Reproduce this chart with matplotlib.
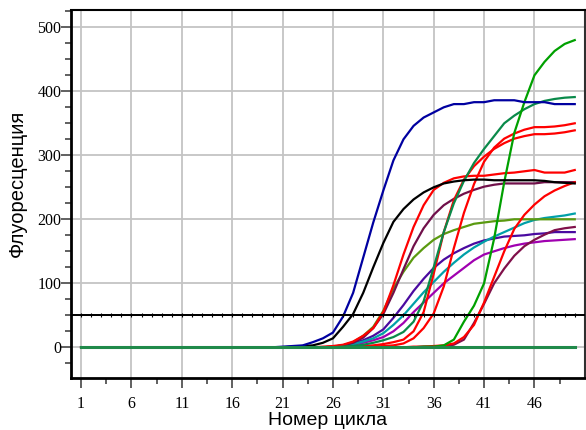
import matplotlib
matplotlib.use('Agg')
import matplotlib.pyplot as plt
from matplotlib.ticker import MultipleLocator, FixedLocator
import numpy as np

# Cycle numbers and fluorescence per sample
cycles = np.arange(1, 51)
threshold = 50

blue = [0, 0, 0, 0, 0, 0, 0, 0, 0, 0,
        0, 0, 0, 0, 0, 0, 0, 0, 0, 0,
        1, 2, 3, 8, 14, 23, 48, 85, 140, 195,
        245, 292, 325, 346, 359, 367, 375, 380, 380, 383,
        383, 386, 386, 386, 383, 383, 383, 380, 380, 380]
black = [0, 0, 0, 0, 0, 0, 0, 0, 0, 0,
         0, 0, 0, 0, 0, 0, 0, 0, 0, 0,
         0, 1, 2, 3, 7, 14, 32, 52, 85, 125,
         163, 196, 216, 231, 242, 250, 256, 259, 261, 262,
         262, 261, 261, 261, 261, 261, 260, 258, 257, 256]
red_a = [0, 0, 0, 0, 0, 0, 0, 0, 0, 0,
         0, 0, 0, 0, 0, 0, 0, 0, 0, 0,
         0, 0, 0, 0, 1, 2, 4, 9, 18, 30,
         55, 97, 145, 188, 222, 246, 257, 264, 267, 268,
         268, 270, 272, 273, 275, 277, 273, 273, 273, 277]
maroon_a = [0, 0, 0, 0, 0, 0, 0, 0, 0, 0,
            0, 0, 0, 0, 0, 0, 0, 0, 0, 0,
            0, 0, 0, 0, 0, 1, 3, 7, 15, 30,
            52, 85, 122, 158, 186, 207, 222, 232, 240, 246,
            251, 254, 256, 256, 256, 256, 258, 258, 258, 258]
olive = [0, 0, 0, 0, 0, 0, 0, 0, 0, 0,
         0, 0, 0, 0, 0, 0, 0, 0, 0, 0,
         0, 0, 0, 0, 0, 1, 3, 8, 18, 32,
         57, 92, 118, 140, 155, 168, 177, 183, 188, 193,
         195, 197, 198, 200, 200, 200, 200, 200, 200, 200]
indigo = [0, 0, 0, 0, 0, 0, 0, 0, 0, 0,
          0, 0, 0, 0, 0, 0, 0, 0, 0, 0,
          0, 0, 0, 0, 0, 1, 3, 6, 11, 18,
          28, 46, 66, 88, 107, 124, 137, 147, 155, 162,
          167, 170, 173, 174, 175, 177, 178, 180, 180, 180]
teal = [0, 0, 0, 0, 0, 0, 0, 0, 0, 0,
        0, 0, 0, 0, 0, 0, 0, 0, 0, 0,
        0, 0, 0, 0, 0, 1, 2, 5, 9, 14,
        22, 35, 50, 68, 86, 102, 118, 132, 145, 156,
        165, 173, 180, 187, 194, 199, 202, 204, 206, 209]
magenta = [0, 0, 0, 0, 0, 0, 0, 0, 0, 0,
           0, 0, 0, 0, 0, 0, 0, 0, 0, 0,
           0, 0, 0, 0, 0, 0, 2, 4, 7, 11,
           16, 25, 38, 55, 70, 85, 100, 112, 124, 136,
           145, 150, 155, 159, 162, 164, 166, 167, 168, 169]
seagreen = [0, 0, 0, 0, 0, 0, 0, 0, 0, 0,
            0, 0, 0, 0, 0, 0, 0, 0, 0, 0,
            0, 0, 0, 0, 0, 0, 1, 2, 4, 7,
            11, 16, 24, 40, 72, 125, 180, 225, 260, 288,
            310, 330, 350, 362, 372, 380, 385, 388, 390, 391]
red_c = [0, 0, 0, 0, 0, 0, 0, 0, 0, 0,
         0, 0, 0, 0, 0, 0, 0, 0, 0, 0,
         0, 0, 0, 0, 0, 0, 0, 1, 2, 3,
         5, 8, 12, 25, 55, 115, 180, 230, 262, 283,
         298, 310, 319, 326, 330, 333, 333, 334, 336, 339]
red_b = [0, 0, 0, 0, 0, 0, 0, 0, 0, 0,
         0, 0, 0, 0, 0, 0, 0, 0, 0, 0,
         0, 0, 0, 0, 0, 0, 0, 0, 0, 1,
         2, 3, 6, 14, 30, 53, 95, 155, 210, 255,
         290, 312, 326, 334, 340, 344, 344, 345, 347, 350]
green = [0, 0, 0, 0, 0, 0, 0, 0, 0, 0,
         0, 0, 0, 0, 0, 0, 0, 0, 0, 0,
         0, 0, 0, 0, 0, 0, 0, 0, 0, 0,
         0, 0, 0, 0, 1, 1, 3, 12, 40, 65,
         100, 170, 258, 335, 383, 425, 446, 463, 474, 480]
red_d = [0, 0, 0, 0, 0, 0, 0, 0, 0, 0,
         0, 0, 0, 0, 0, 0, 0, 0, 0, 0,
         0, 0, 0, 0, 0, 0, 0, 0, 0, 0,
         0, 0, 0, 1, 1, 2, 3, 6, 16, 35,
         70, 110, 150, 185, 207, 223, 236, 245, 252, 258]
maroon_b = [0, 0, 0, 0, 0, 0, 0, 0, 0, 0,
            0, 0, 0, 0, 0, 0, 0, 0, 0, 0,
            0, 0, 0, 0, 0, 0, 0, 0, 0, 0,
            0, 0, 0, 0, 1, 1, 2, 4, 12, 38,
            68, 100, 123, 143, 158, 168, 176, 183, 186, 188]
negative = [0, 0, 0, 0, 0, 0, 0, 0, 0, 0,
            0, 0, 0, 0, 0, 0, 0, 0, 0, 0,
            0, 0, 0, 0, 0, 0, 0, 0, 0, 0,
            0, 0, 0, 0, 0, 0, 0, 0, 0, 0,
            0, 0, 0, 0, 0, 0, 0, 0, 0, 0]

series = [
    (magenta, '#a000b0'),
    (indigo, '#4a0aa0'),
    (teal, '#00a0a8'),
    (olive, '#5a9a10'),
    (maroon_b, '#80104a'),
    (maroon_a, '#70104a'),
    (red_d, '#ff0000'),
    (red_c, '#ff0000'),
    (red_b, '#ff0000'),
    (red_a, '#ff0000'),
    (seagreen, '#0a8a4a'),
    (green, '#00a000'),
    (black, '#000000'),
    (blue, '#0000a0'),
]

fig = plt.figure(figsize=(5.86, 4.30), dpi=100)
ax = fig.add_axes([0.1212, 0.1209, 0.8768, 0.8558])

for values, color in series:
    ax.plot(cycles, values, color=color, lw=1.6, zorder=3)

# flat negative samples on top
ax.plot(cycles, negative, color='#208a4a', lw=2.2, zorder=4)

# threshold line
ax.plot(cycles, np.full(len(cycles), threshold), color='black', lw=1.4,
        marker='|', ms=2.5, mew=0.8, zorder=4)
ax.axhline(threshold, color='black', lw=1.4, zorder=4)

ax.set_xlim(0, 51)
ax.set_ylim(-48, 527)

ax.xaxis.set_major_locator(FixedLocator(np.arange(1, 50, 5)))
ax.xaxis.set_minor_locator(FixedLocator(np.arange(3.5, 50, 2.5)))
ax.yaxis.set_major_locator(MultipleLocator(100))
ax.yaxis.set_minor_locator(MultipleLocator(25))

ax.grid(True, which='major', color='#c4c4c4', lw=1.3, zorder=0)

for s in ['left', 'bottom']:
    ax.spines[s].set_linewidth(2)
    ax.spines[s].set_color('black')
ax.spines['top'].set_linewidth(1.5)
ax.spines['right'].set_linewidth(1.5)
ax.spines['right'].set_color('#303030')

ax.tick_params(which='major', direction='out', length=7, width=1.4,
               color='#606060', pad=2)
ax.tick_params(which='minor', direction='out', length=4, width=1.4,
               color='#606060')
ax.tick_params(axis='y', which='major', pad=0)
ax.tick_params(axis='x', which='major', pad=6)

for lab in ax.get_xticklabels() + ax.get_yticklabels():
    lab.set_family('Liberation Serif')
    lab.set_fontsize(11.5)

ax.set_xlabel('Номер цикла', family='Liberation Sans', fontsize=14, labelpad=0)
ax.set_ylabel('Флуоресценция', family='Liberation Sans', fontsize=14.5)
ax.yaxis.set_label_coords(-0.085, 0.53)

fig.savefig('out.png', dpi=100)
